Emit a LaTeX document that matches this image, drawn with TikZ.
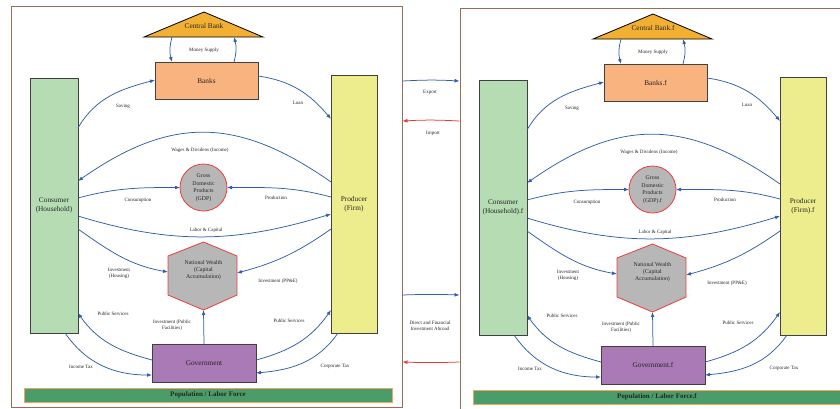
\documentclass[tikz,border=0pt]{standalone}
\usepackage{fontspec}
\setmainfont{Liberation Serif}
\usetikzlibrary{arrows.meta,calc}

\definecolor{flowblue}{HTML}{2F5DAE}
\definecolor{flowred}{HTML}{EC3434}
\definecolor{framebrown}{HTML}{9C6B53}
\definecolor{consfill}{HTML}{B5DCB3}
\definecolor{prodfill}{HTML}{EDED8D}
\definecolor{bankfill}{HTML}{F8B37E}
\definecolor{cbfill}{HTML}{F2B033}
\definecolor{govfill}{HTML}{A97AB5}
\definecolor{aggfill}{HTML}{B7B7B7}
\definecolor{aggline}{HTML}{EE3B3B}
\definecolor{popfill}{HTML}{4A9C68}
\definecolor{popline}{HTML}{F4A460}

\tikzset{
  x=1pt, y=1pt,
  flow/.style={draw=flowblue, line width=0.75pt, -{Latex[length=5pt,width=3.8pt]}},
  backflow/.style={draw=flowred, line width=0.75pt, -{Latex[length=5pt,width=3.8pt]}},
  lbl/.style={font=\fontsize{5}{6}\selectfont, text=black!85, align=center, inner sep=0pt},
  boxtext/.style={font=\fontsize{7.3}{8.6}\selectfont, text=black!85, align=center},
  agent/.style={rectangle, draw=black!75, line width=0.9pt, inner sep=0pt, outer sep=0pt, boxtext},
  panelframe/.style={rectangle, draw=framebrown, line width=0.9pt, minimum width=391pt, minimum height=401pt, inner sep=0pt},
}

% one closed economy: households, firms, banks, government, central bank
\newcommand\econpanel[1]{%
  \node[panelframe] (frame) at (206.5,-206.5) {};
  \node[rectangle, fill=popfill, draw=popline, line width=0.9pt, minimum width=368pt, minimum height=14pt,
        inner sep=0pt, font=\bfseries\fontsize{7}{8}\selectfont, text=black!85] (pop) at (208,-395) {Population / Labor Force#1};
  % central bank
  \path[fill=cbfill, draw=black, line width=0.8pt] (144,-37) -- (204,-12) -- (263,-37) -- cycle;
  \node[boxtext] (cb) at (204,-26) {Central Bank#1};
  \coordinate (cbL) at (172,-37);
  \coordinate (cbR) at (234,-37);
  % agents
  \node[agent, fill=bankfill, minimum width=103pt, minimum height=37pt] (banks) at (206.5,-80.5) {Banks#1};
  \node[agent, fill=consfill, minimum width=48pt, minimum height=255pt] (cons) at (54,-205.5) {Consumer\\(Household)#1};
  \node[agent, fill=prodfill, minimum width=46pt, minimum height=258pt] (prod) at (354,-204) {Producer\\(Firm)#1};
  \node[agent, fill=govfill, minimum width=104pt, minimum height=38pt] (gov) at (204,-363) {Government#1};
  % aggregates
  \node[circle, fill=aggfill, draw=aggline, line width=0.8pt, minimum size=47pt, inner sep=0pt, outer sep=0pt,
        font=\fontsize{5.8}{7.5}\selectfont, text=black!85, align=center] (gdp) at (203.5,-187.5) {Gross\\Domestic\\Products\\(GDP)#1};
  \path[fill=aggfill, draw=aggline, line width=0.8pt]
    (203.5,-242) -- (237,-256) -- (237,-295) -- (203.5,-310) -- (168,-295) -- (168,-256) -- cycle;
  \node[font=\fontsize{5.8}{6.6}\selectfont, text=black!85, align=center] (nw) at (203.5,-270) {National Wealth\\(Capital\\Accumulation)};
  \coordinate (nwL) at (168,-272);
  \coordinate (nwR) at (237,-273);
  \coordinate (nwB) at (203.5,-310);
  % flows
  \draw[flow] (cbL) to[out=255,in=105] (banks.north -| cbL);
  \draw[flow] (banks.north -| cbR) to[out=75,in=-75] (cbR);
  \draw[flow] (cons.east |- 0,-128) to[out=60,in=195] (banks.west |- 0,-80);
  \draw[flow] (banks.east |- 0,-76) to[out=-8,in=130] (prod.west |- 0,-119);
  \draw[flow] (prod.west |- 0,-182) to[out=145,in=35,looseness=1.15] (cons.east |- 0,-181);
  \draw[flow] (cons.east |- 0,-198) to[out=15,in=180] (gdp.west);
  \draw[flow] (prod.west |- 0,-197) to[out=165,in=0] (gdp.east);
  \draw[flow] (cons.east |- 0,-216) to[out=-17,in=197] (prod.west |- 0,-214);
  \draw[flow] (cons.east |- 0,-229) to[out=-35,in=170] (nwL);
  \draw[flow] (prod.west |- 0,-229) to[out=215,in=15] (nwR);
  \draw[flow] (gov.north) -- (nwB);
  \draw[flow] (gov.west |- 0,-360) to[out=165,in=-55] (cons.east |- 0,-313);
  \draw[flow] (cons.south -| 65,0) to[out=-55,in=180] (gov.west |- 0,-375);
  \draw[flow] (gov.east |- 0,-360) to[out=15,in=235] (prod.west |- 0,-310);
  \draw[flow] (prod.south -| 338,0) to[out=-125,in=5] (gov.east |- 0,-373);
  % flow labels
  \node[lbl] (lms) at (204,-50) {Money Supply};
  \node[lbl] (lsav) at (123,-106) {Saving};
  \node[lbl] (lloan) at (298,-103) {Loan};
  \node[lbl] (lwage) at (200,-150) {Wages \& Dividens (Income)};
  \node[lbl] (lcons) at (138,-200) {Consumption};
  \node[lbl] (lprod) at (276,-198) {Production};
  \node[lbl] (llab) at (206,-230) {Labor \& Capital};
  \node[lbl] (lih) at (119,-273) {Investment\\(Housing)};
  \node[lbl] (lipe) at (278,-281) {Investment (PP\&E)};
  \node[lbl] (lpsl) at (113,-314) {Public Services};
  \node[lbl] (lipf) at (172,-325) {Investment (Public\\Facilities)};
  \node[lbl] (lpsr) at (289,-321) {Public Services};
  \node[lbl] (linc) at (81,-367) {Income Tax};
  \node[lbl] (lcorp) at (335,-366) {Corporate Tax};
}

\begin{document}
\begin{tikzpicture}
  \useasboundingbox (0,0) rectangle (840,-408);
  \clip (0,0) rectangle (840,-408);
  \begin{scope}[name prefix=L-]
    \econpanel{}
  \end{scope}
  \begin{scope}[name prefix=R-, shift={(449,-2)}]
    \econpanel{.f}
  \end{scope}
  % flows between the two economies
  \draw[flow] (L-frame.east |- 0,-81) to[bend left=3] (R-frame.west |- 0,-81);
  \draw[backflow] (R-frame.west |- 0,-121) to[bend right=3] (L-frame.east |- 0,-121);
  \draw[flow] (L-frame.east |- 0,-295) to[bend left=2] (R-frame.west |- 0,-295);
  \draw[backflow] (R-frame.west |- 0,-362) to[bend left=2] (L-frame.east |- 0,-362);
  \node[lbl] (lexp) at (430,-92) {Export};
  \node[lbl] (limp) at (433,-133) {Import};
  \node[lbl] (ldfi) at (430,-326) {Direct and Financial\\Investment Abroad};
\end{tikzpicture}
\end{document}
